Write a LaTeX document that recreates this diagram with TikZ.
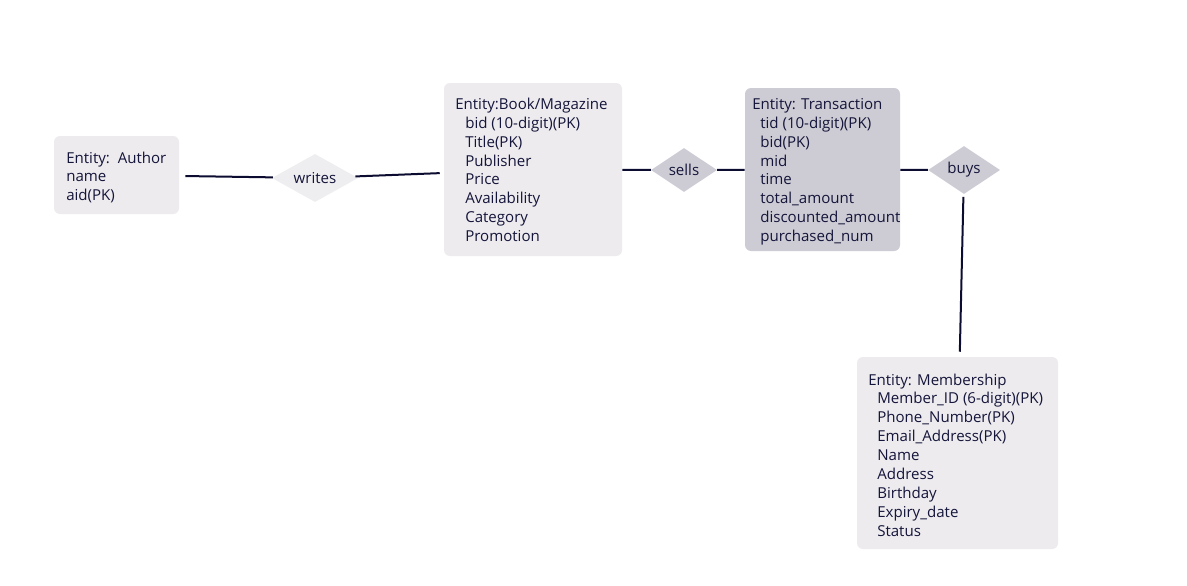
\documentclass[tikz,border=0pt]{standalone}
\usepackage{fontspec}
\setmainfont{Open Sans}
\usetikzlibrary{shapes.geometric}
\definecolor{boxA}{HTML}{EDEBEE}
\definecolor{boxB}{HTML}{CDCCD4}
\definecolor{diaA}{HTML}{EEEDEF}
\definecolor{ink}{HTML}{14153A}
\definecolor{edgec}{HTML}{0C0C30}
\begin{document}
\begin{tikzpicture}[x=0.75pt,y=-0.75pt,
  ebox/.style={draw=none, rounded corners=4.5pt, inner sep=0pt},
  etext/.style={anchor=north west, inner sep=0pt, align=left, text=ink,
    font=\fontsize{11.3}{14.2}\selectfont},
  rel/.style={diamond, aspect=1.8, inner sep=0pt, text=ink,
    font=\fontsize{11.3}{14.2}\selectfont},
  conn/.style={draw=edgec, line width=1.5pt}
]
\useasboundingbox (0,0) rectangle (1187,585);
\fill[white] (0,0) rectangle (1187,585);

% entity boxes
\node[ebox, fill=boxA, minimum width=93.75pt, minimum height=58.5pt] (author) at (116.5,175) {};
\node[ebox, fill=boxA, minimum width=133.5pt, minimum height=129.75pt] (book) at (533,169.5) {};
\node[ebox, fill=boxB, minimum width=116.25pt, minimum height=122.25pt] (trans) at (822.5,169.5) {};
\node[ebox, fill=boxA, minimum width=150.75pt, minimum height=144pt] (member) at (957.5,453) {};

% texts
\node[etext] (authortxt) at (66,149.5) {\strut Entity:\ \ Author\\name\\aid(PK)};
\node[etext] (booktxt) at (455,95.7) {\strut Entity:Book/Magazine\\
  \hspace*{7.5pt}bid (10-digit)(PK)\\
  \hspace*{7.5pt}Title(PK)\\
  \hspace*{7.5pt}Publisher\\
  \hspace*{7.5pt}Price\\
  \hspace*{7.5pt}Availability\\
  \hspace*{7.5pt}Category\\
  \hspace*{7.5pt}Promotion};
\node[etext] (transtxt) at (752,95.7) {\strut Entity: Transaction\\
  \hspace*{6pt}tid (10-digit)(PK)\\
  \hspace*{6pt}bid(PK)\\
  \hspace*{6pt}mid\\
  \hspace*{6pt}time\\
  \hspace*{6pt}total\_amount\\
  \hspace*{6pt}discounted\_amount\\
  \hspace*{6pt}purchased\_num};
\node[etext] (membertxt) at (868,371.5) {\strut Entity: Membership\\
  \hspace*{6.75pt}Member\_ID (6-digit)(PK)\\
  \hspace*{6.75pt}Phone\_Number(PK)\\
  \hspace*{6.75pt}Email\_Address(PK)\\
  \hspace*{6.75pt}Name\\
  \hspace*{6.75pt}Address\\
  \hspace*{6.75pt}Birthday\\
  \hspace*{6.75pt}Expiry\_date\\
  \hspace*{6.75pt}Status};

% relationships
\node[rel, fill=diaA, minimum width=64.5pt, minimum height=36pt] (writes) at (315,178) {writes};
\node[rel, fill=boxB, minimum width=49.5pt, minimum height=33pt] (sells) at (684,170) {sells};
\node[rel, fill=boxB, minimum width=54pt, minimum height=36pt] (buys) at (964,170) {buys};

% connectors
\draw[conn, shorten <=4.5pt] (author) -- (writes);
\draw[conn, shorten >=3pt] (writes) -- (book);
\draw[conn] (book) -- (sells);
\draw[conn] (sells) -- (trans);
\draw[conn] (trans) -- (buys);
\draw[conn, shorten <=2.25pt, shorten >=3.75pt] (buys) -- (member);
\end{tikzpicture}
\end{document}
